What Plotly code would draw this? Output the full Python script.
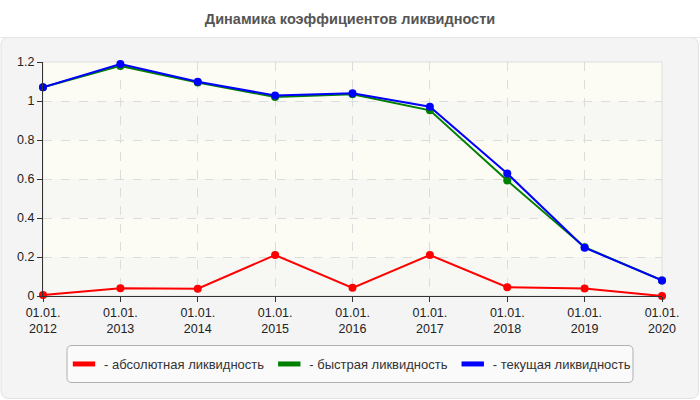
import plotly.graph_objects as go

categories = ["01.01.<br>2012", "01.01.<br>2013", "01.01.<br>2014", "01.01.<br>2015",
              "01.01.<br>2016", "01.01.<br>2017", "01.01.<br>2018", "01.01.<br>2019",
              "01.01.<br>2020"]
absolute_liq = [0.005, 0.04, 0.037, 0.21, 0.042, 0.21, 0.045, 0.038, 0.0]
quick_liq = [1.07, 1.18, 1.095, 1.02, 1.035, 0.952, 0.592, 0.25, 0.08]
current_liq = [1.07, 1.19, 1.099, 1.028, 1.04, 0.971, 0.628, 0.248, 0.08]

series_names = ["- абсолютная ликвидность", "- быстрая ликвидность", "- текущая ликвидность"]
series_colors = ["#ff0000", "#008000", "#0000ff"]
series_values = [absolute_liq, quick_liq, current_liq]

W, H = 700, 400
L, R, T, B = 43, 38, 62, 104
pw, ph = W - L - R, H - T - B


def px2x(px):
    return (px - L) / pw


def py2y(py):
    return (H - B - py) / ph


def rounded_rect(x0, y0, x1, y1, r):
    def P(x, y):
        return f"{px2x(x):.5f},{py2y(y):.5f}"
    return (f"M {P(x0 + r, y0)} L {P(x1 - r, y0)} Q {P(x1, y0)} {P(x1, y0 + r)} "
            f"L {P(x1, y1 - r)} Q {P(x1, y1)} {P(x1 - r, y1)} "
            f"L {P(x0 + r, y1)} Q {P(x0, y1)} {P(x0, y1 - r)} "
            f"L {P(x0, y0 + r)} Q {P(x0, y0)} {P(x0 + r, y0)} Z")


fig = go.Figure()

for name, color, vals in zip(series_names, series_colors, series_values):
    fig.add_trace(go.Scatter(
        x=categories, y=vals, mode="lines+markers", name=name,
        line=dict(color=color, width=2),
        marker=dict(color=color, size=8),
        showlegend=False, cliponaxis=False,
    ))

for name, color in zip(series_names, series_colors):
    fig.add_trace(go.Scatter(
        x=[None], y=[None], mode="markers", name=name,
        marker=dict(color=color, size=16, symbol="line-ew",
                    line=dict(color=color, width=7)),
        showlegend=True,
    ))

shapes = []
shapes.append(dict(type="path", xref="paper", yref="paper", layer="below",
                   path=rounded_rect(1, 37.5, 698.5, 398.5, 8),
                   fillcolor="#f4f4f4", line=dict(color="#e2e2e2", width=1)))
shapes.append(dict(type="line", xref="paper", yref="paper", layer="below",
                   x0=px2x(0), x1=px2x(700), y0=py2y(37.5), y1=py2y(37.5),
                   line=dict(color="#e6e6e6", width=1)))
band_edges = [0, 0.2, 0.4, 0.6, 0.8, 1.0, 1.2]
for i in range(len(band_edges) - 1):
    shapes.append(dict(type="rect", xref="paper", yref="y", layer="below",
                       x0=0, x1=1, y0=band_edges[i], y1=band_edges[i + 1],
                       fillcolor="#f7f7f3" if i % 2 == 0 else "#fcfcf5",
                       line=dict(width=0)))
shapes.append(dict(type="rect", xref="paper", yref="paper", layer="below",
                   x0=0, x1=1, y0=0, y1=1, line=dict(color="#dedede", width=1)))
shapes.append(dict(type="path", xref="paper", yref="paper", layer="below",
                   path=rounded_rect(67, 345.5, 633, 382.5, 5),
                   fillcolor="#fafafa", line=dict(color="#b0b0b0", width=1)))

fig.update_layout(
    width=W, height=H,
    margin=dict(l=L, r=R, t=T, b=B),
    paper_bgcolor="white",
    plot_bgcolor="rgba(0,0,0,0)",
    font=dict(family="Liberation Sans, Arial, sans-serif", size=13, color="#333"),
    title=dict(text="<b>Динамика коэффициентов ликвидности</b>",
               x=0.5, xanchor="center", y=1 - 19 / H, yanchor="middle",
               font=dict(size=14.5, color="#555")),
    shapes=shapes,
    showlegend=True,
    hovermode=False,
    legend=dict(orientation="h", x=px2x(350), xanchor="center",
                y=py2y(364), yanchor="middle",
                bgcolor="rgba(0,0,0,0)", borderwidth=0,
                font=dict(size=13, color="#333"),
                itemclick=False, itemdoubleclick=False),
    xaxis=dict(type="category", range=[0, len(categories) - 1],
               showline=True, linecolor="#333", linewidth=1,
               ticks="outside", ticklen=5, tickcolor="#333",
               showgrid=True, gridcolor="#dcdcdc", griddash="dash", gridwidth=1,
               tickfont=dict(size=12.5, color="#222"), zeroline=False),
    yaxis=dict(range=[0, 1.2], dtick=0.2, tick0=0,
               showline=True, linecolor="#333", linewidth=1,
               ticks="outside", ticklen=5, tickcolor="#333",
               showgrid=True, gridcolor="#dcdcdc", griddash="dash", gridwidth=1,
               tickfont=dict(size=12.5, color="#222"), zeroline=False),
)

fig.write_html("out.html",
               config={"displayModeBar": False, "staticPlot": True},
               post_script="document.body.style.margin='0';document.body.style.padding='0';")
